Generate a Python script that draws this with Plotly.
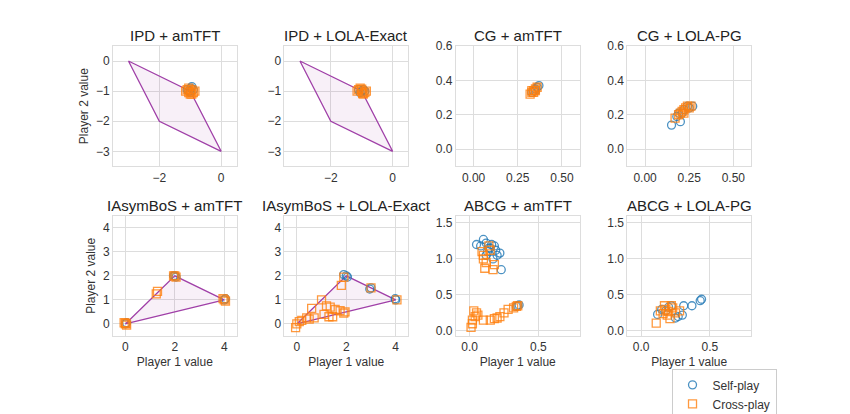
import plotly.graph_objects as go
from plotly.subplots import make_subplots

titles = ["IPD + amTFT", "IPD + LOLA-Exact", "CG + amTFT", "CG + LOLA-PG",
          "IAsymBoS + amTFT", "IAsymBoS + LOLA-Exact", "ABCG + amTFT", "ABCG + LOLA-PG"]

# feasible payoff polygons
ipd_hull_x = [-3, -1, 0, -2, -3]
ipd_hull_y = [0, -1, -3, -2, 0]
bos_hull_x = [0, 2, 4, 0]
bos_hull_y = [0, 2, 1, 0]

ipd_am_self_x = [-1.0, -0.95, -1.05, -0.9, -1.0, -1.1, -0.98]
ipd_am_self_y = [-1.0, -0.85, -1.0, -0.95, -1.05, -0.95, -0.9]
ipd_am_cross_x = [-1.0, -1.1, -0.9, -0.95, -1.05, -1.15, -0.85, -1.0, -0.95, -1.05]
ipd_am_cross_y = [-1.0, -0.95, -1.05, -1.1, -0.9, -1.0, -1.0, -1.1, -0.95, -1.05]
ipd_lola_self_x = [-1.0, -0.95, -1.05, -0.9, -1.1]
ipd_lola_self_y = [-1.0, -0.95, -1.05, -1.0, -0.95]
ipd_lola_cross_x = [-1.0, -1.1, -0.9, -0.95, -1.05, -1.15, -0.85, -1.0, -0.97]
ipd_lola_cross_y = [-1.0, -0.95, -1.05, -1.1, -0.9, -1.0, -1.0, -0.93, -1.07]

cg_am_self_x = [0.33, 0.34, 0.35, 0.36, 0.37, 0.35]
cg_am_self_y = [0.33, 0.34, 0.35, 0.36, 0.37, 0.34]
cg_am_cross_x = [0.32, 0.33, 0.34, 0.35, 0.36, 0.34, 0.33, 0.35]
cg_am_cross_y = [0.32, 0.33, 0.34, 0.35, 0.36, 0.33, 0.34, 0.34]
cg_lola_self_x = [0.15, 0.18, 0.2, 0.21, 0.22, 0.24, 0.25, 0.27, 0.19]
cg_lola_self_y = [0.14, 0.19, 0.16, 0.21, 0.23, 0.25, 0.24, 0.25, 0.21]
cg_lola_cross_x = [0.17, 0.19, 0.2, 0.21, 0.22, 0.23, 0.24, 0.25, 0.26, 0.22]
cg_lola_cross_y = [0.18, 0.2, 0.21, 0.22, 0.23, 0.24, 0.25, 0.24, 0.25, 0.21]

bos_am_self_x = [0, 0.05, 2, 2.05, 4, 4.05, 1.95]
bos_am_self_y = [0, 0.05, 2, 1.95, 1.0, 1.05, 2.0]
bos_am_cross_x = [0, 0.05, -0.05, 2, 2.05, 1.95, 4, 4.05, 3.95, 1.3, 1.25, 0.02]
bos_am_cross_y = [0, -0.05, 0.05, 2, 1.95, 2.0, 1.0, 0.95, 1.05, 1.35, 1.25, 0.03]
bos_lola_self_x = [1.9, 2.0, 2.05, 3.0, 2.95, 4.0, 3.98]
bos_lola_self_y = [2.05, 2.0, 1.95, 1.5, 1.45, 1.0, 1.05]
bos_lola_cross_x = [0, -0.05, 0.1, 0.2, 0.4, 0.5, 0.6, 0.7, 1.0, 1.1, 1.2, 1.3, 1.35, 1.45,
                    1.55, 1.75, 1.8, 1.9, 1.9, 1.95, 3.0, 4.05]
bos_lola_cross_y = [0, -0.15, 0.1, 0.15, 0.25, 0.2, 0.65, 0.25, 1.0, 0.4, 0.75, 0.3, 0.7, 0.3,
                    0.6, 0.55, 1.6, 0.45, 1.95, 0.5, 1.5, 1.0]

abcg_am_self_x = [0.05, 0.08, 0.1, 0.12, 0.13, 0.15, 0.16, 0.18, 0.19, 0.2, 0.22, 0.23, 0.12,
                  0.17, 0.14, 0.34, 0.35, 0.36]
abcg_am_self_y = [1.2, 1.18, 1.27, 1.22, 1.1, 1.15, 1.2, 1.18, 1.12, 1.05, 1.08, 0.85, 1.05,
                  1.0, 1.15, 0.34, 0.35, 0.36]
abcg_am_cross_x = [0.1, 0.12, 0.09, 0.11, 0.15, 0.17, 0.18, 0.1, 0.14, 0.01, 0.02, 0.03, 0.04,
                   0.05, 0.06, 0.02, 0.1, 0.15, 0.18, 0.2, 0.22, 0.25, 0.28, 0.32, 0.34, 0.35]
abcg_am_cross_y = [1.0, 0.95, 1.1, 0.87, 1.12, 0.85, 0.92, 1.05, 1.18, 0.05, 0.1, 0.28, 0.2,
                   0.25, 0.22, 0.15, 0.15, 0.15, 0.17, 0.18, 0.2, 0.25, 0.3, 0.32, 0.34, 0.35]
abcg_lola_self_x = [0.12, 0.15, 0.18, 0.2, 0.22, 0.25, 0.27, 0.3, 0.31, 0.37, 0.43, 0.44]
abcg_lola_self_y = [0.23, 0.3, 0.28, 0.33, 0.35, 0.18, 0.2, 0.22, 0.35, 0.35, 0.42, 0.44]
abcg_lola_cross_x = [0.11, 0.14, 0.16, 0.17, 0.18, 0.2, 0.21, 0.22, 0.23, 0.25, 0.28, 0.19]
abcg_lola_cross_y = [0.11, 0.28, 0.24, 0.35, 0.3, 0.27, 0.17, 0.35, 0.32, 0.25, 0.28, 0.22]

panels = [
    (ipd_am_self_x, ipd_am_self_y, ipd_am_cross_x, ipd_am_cross_y),
    (ipd_lola_self_x, ipd_lola_self_y, ipd_lola_cross_x, ipd_lola_cross_y),
    (cg_am_self_x, cg_am_self_y, cg_am_cross_x, cg_am_cross_y),
    (cg_lola_self_x, cg_lola_self_y, cg_lola_cross_x, cg_lola_cross_y),
    (bos_am_self_x, bos_am_self_y, bos_am_cross_x, bos_am_cross_y),
    (bos_lola_self_x, bos_lola_self_y, bos_lola_cross_x, bos_lola_cross_y),
    (abcg_am_self_x, abcg_am_self_y, abcg_am_cross_x, abcg_am_cross_y),
    (abcg_lola_self_x, abcg_lola_self_y, abcg_lola_cross_x, abcg_lola_cross_y),
]

blue = "#1f77b4"
orange = "#ff7f0e"
purple = "#a040a8"

fig = make_subplots(rows=2, cols=4, subplot_titles=titles,
                    horizontal_spacing=0.075, vertical_spacing=0.17)

for i, (sx, sy, cx, cy) in enumerate(panels):
    r, c = i // 4 + 1, i % 4 + 1
    hull = None
    if i < 2:
        hull = (ipd_hull_x, ipd_hull_y)
    elif i in (4, 5):
        hull = (bos_hull_x, bos_hull_y)
    if hull:
        fig.add_trace(go.Scatter(x=hull[0], y=hull[1], mode="lines", fill="toself",
                                 fillcolor="rgba(160,64,168,0.08)",
                                 line=dict(color=purple, width=1.3), showlegend=False),
                      row=r, col=c)
    fig.add_trace(go.Scatter(x=sx, y=sy, mode="markers", name="Self-play", showlegend=(i == 0),
                             marker=dict(symbol="circle-open", size=8, color=blue,
                                         line=dict(width=1.3), opacity=0.8)),
                  row=r, col=c)
    fig.add_trace(go.Scatter(x=cx, y=cy, mode="markers", name="Cross-play", showlegend=(i == 0),
                             marker=dict(symbol="square-open", size=8, color=orange,
                                         line=dict(width=1.3), opacity=0.8)),
                  row=r, col=c)

ax = dict(showgrid=True, gridcolor="#dddddd", zeroline=False, showline=True, mirror=True,
          linecolor="#dddddd", ticks="", tickfont=dict(size=12, color="#333"))
fig.update_xaxes(**ax)
fig.update_yaxes(**ax)
for c in (1, 2):
    fig.update_xaxes(range=[-3.5, 0.5], tickvals=[-2, 0], row=1, col=c)
    fig.update_yaxes(range=[-3.5, 0.5], tickvals=[-3, -2, -1, 0], row=1, col=c)
    fig.update_xaxes(range=[-0.5, 4.5], tickvals=[0, 2, 4], row=2, col=c)
    fig.update_yaxes(range=[-0.5, 4.5], tickvals=[0, 1, 2, 3, 4], row=2, col=c)
for c in (3, 4):
    fig.update_xaxes(range=[-0.1, 0.6], tickvals=[0, 0.25, 0.5], ticktext=["0.00", "0.25", "0.50"], row=1, col=c)
    fig.update_yaxes(range=[-0.1, 0.6], tickvals=[0, 0.2, 0.4, 0.6], ticktext=["0.0", "0.2", "0.4", "0.6"], row=1, col=c)
    fig.update_xaxes(range=[-0.1, 0.8], tickvals=[0, 0.5], ticktext=["0.0", "0.5"], row=2, col=c)
    fig.update_yaxes(range=[-0.07, 1.6], tickvals=[0, 0.5, 1, 1.5], ticktext=["0.0", "0.5", "1.0", "1.5"], row=2, col=c)
for c in range(1, 5):
    fig.update_xaxes(title=dict(text="Player 1 value", font=dict(size=12, color="#333"), standoff=4), row=2, col=c)
fig.update_yaxes(title=dict(text="Player 2 value", font=dict(size=12, color="#333"), standoff=4), row=1, col=1)
fig.update_yaxes(title=dict(text="Player 2 value", font=dict(size=12, color="#333"), standoff=4), row=2, col=1)
fig.update_annotations(font=dict(size=15, color="#222"))

fig.update_layout(width=850, height=414, plot_bgcolor="white", paper_bgcolor="white",
                  font=dict(family="Liberation Sans, Arial"),
                  margin=dict(l=105, r=107, t=38, b=86, autoexpand=False),
                  legend=dict(x=1.04, y=-0.115, xanchor="right", yanchor="top",
                              bordercolor="#cccccc", borderwidth=1, font=dict(size=12, color="#333")))
fig.write_html("out.html")
